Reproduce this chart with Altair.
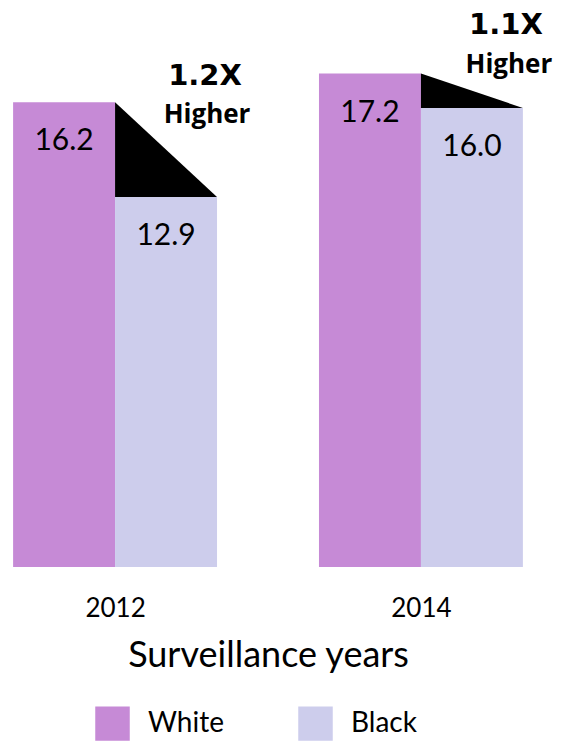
import altair as alt
import pandas as pd

# ---- data ----
years = ["2012", "2014"]
white = [16.2, 17.2]
black = [12.9, 16.0]
ratios = ["1.2X", "1.1X"]
races = ["White", "Black"]
colors = ["#C68AD6", "#CDCDEC"]

bars_rows = []
for g, yr in enumerate(years):
    for k, (race, val) in enumerate(zip(races, [white[g], black[g]])):
        bars_rows.append({"year": yr, "g": g, "k": k, "race": race, "value": val})
bars_df = pd.DataFrame(bars_rows)

tri_rows = []
for g, yr in enumerate(years):
    tri_rows.append({"year": yr, "g": g, "k": 1, "top": white[g], "bot": black[g]})
    tri_rows.append({"year": yr, "g": g, "k": 2, "top": black[g], "bot": black[g]})
tri_df = pd.DataFrame(tri_rows)

ann_df = pd.DataFrame({"year": years, "g": [0, 1], "ratio": ratios, "white": white,
                       "higher": ["Higher", "Higher"]})

FONT = "Lato"
TOP = 6
HEIGHT = 559 - TOP

xscale = alt.Scale(domain=[-0.05, 5.05], nice=False, zero=False)
yscale = alt.Scale(domain=[0, HEIGHT / 28.69], nice=False)

label_expr = " : ".join(
    [f"datum.value == {3*g+1} ? '{yr}'" for g, yr in enumerate(years)]
) + " : ''"

base = alt.Chart(bars_df).transform_calculate(
    x0="3*datum.g + datum.k", x1="3*datum.g + datum.k + 1", xc="3*datum.g + datum.k + 0.5",
    lab="format(datum.value, '.1f')",
)

bars = base.mark_rect().encode(
    x=alt.X("x0:Q", scale=xscale,
            axis=alt.Axis(values=[1, 4], labelExpr=label_expr, ticks=False, domain=False,
                          grid=False, labelFont=FONT, labelFontSize=26, labelColor="black",
                          labelPadding=28, title="Surveillance years", titleFont=FONT,
                          titleFontSize=36, titleFontWeight="normal", titleColor="black",
                          titlePadding=17)),
    x2="x1:Q",
    y=alt.Y("value:Q", scale=yscale, axis=None),
    y2=alt.datum(0),
    color=alt.Color("race:N", scale=alt.Scale(domain=races, range=colors),
                    legend=alt.Legend(orient="none", legendX=87, legendY=698 - TOP,
                                      direction="horizontal", title=None,
                                      symbolType="square", symbolSize=1190,
                                      symbolStrokeWidth=0, symbolOpacity=1,
                                      labelFont=FONT, labelFontSize=28, labelColor="black",
                                      labelOffset=18, columnPadding=74)),
)

values = base.mark_text(font=FONT, fontSize=30, baseline="middle", dy=39, color="black").encode(
    x="xc:Q", y="value:Q", text="lab:N"
)

tri = alt.Chart(tri_df).transform_calculate(xp="3*datum.g + datum.k").mark_area(
    color="black", opacity=1, line=False
).encode(
    x=alt.X("xp:Q"), y=alt.Y("top:Q", stack=None), y2="bot:Q", detail="year:N"
)

ann = alt.Chart(ann_df).transform_calculate(xa="3*datum.g + 2")


def ann_layer(g, text_field, font, size, dx, dy):
    return ann.transform_filter(f"datum.g == {g}").mark_text(
        font=font, fontWeight="bold", fontSize=size, baseline="middle", dx=dx, dy=dy,
        color="black"
    ).encode(x="xa:Q", y="white:Q", text=text_field)


layers = [
    ann_layer(0, "ratio:N", "DejaVu Sans", 29, -12, -26.5),
    ann_layer(0, "higher:N", "Open Sans", 26, -10, 13),
    ann_layer(1, "ratio:N", "DejaVu Sans", 29, -17, -49),
    ann_layer(1, "higher:N", "Open Sans", 26, -14, -8.5),
]

chart = alt.layer(bars, tri, values, *layers).properties(
    width=520, height=HEIGHT,
    autosize=alt.AutoSizeParams(type="none"),
    padding={"left": 0, "top": TOP, "right": 25, "bottom": 174},
).configure_view(stroke=None)

chart.save("out.html", embed_options={"renderer": "svg", "actions": False})
